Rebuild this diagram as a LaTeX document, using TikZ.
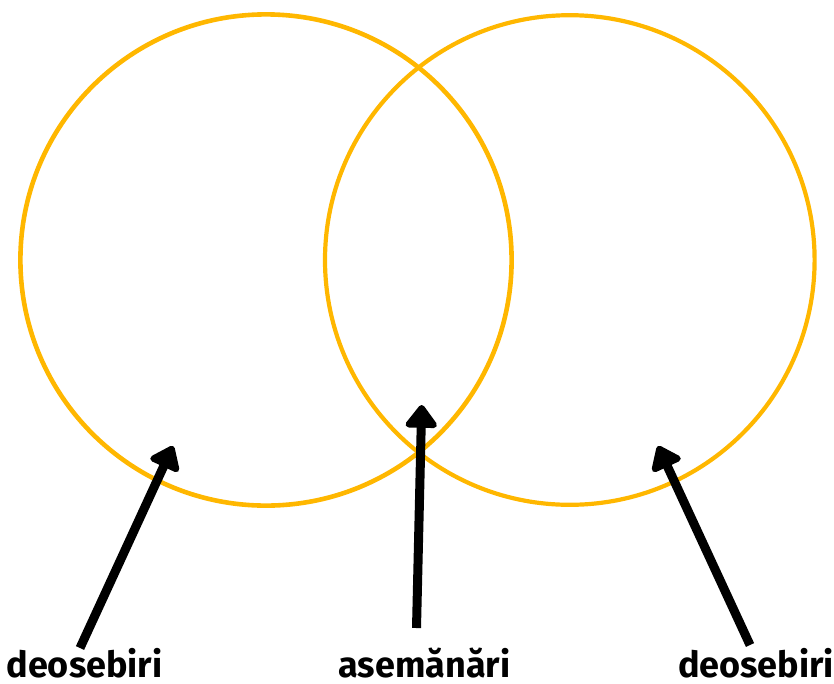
\documentclass[tikz,border=0pt]{standalone}
\usepackage{fontspec}
\setmainfont{Fira Sans}
\usepackage{xcolor}
\usepackage{tikz}
\usetikzlibrary{arrows.meta}

\definecolor{amber}{RGB}{255,183,0}

\tikzset{
    ring/.style = {draw = amber, line width = 4.6pt},
    pointer/.style = {draw = black, line width = 9pt,
        -{Triangle[length = 25pt, width = 36pt, round]}},
    caption/.style = {anchor = base, inner sep = 0pt,
        font = \bfseries\fontsize{36}{36}\selectfont}
}

\begin{document}
\begin{tikzpicture}[x = 1pt, y = -1pt]
        \useasboundingbox (0, 0) rectangle (834, 683);

        \draw[ring] (266, 260) circle(245.6);
        \draw[ring, line width = 4.2pt] (569.8, 260) circle(244.8);

        \node[caption] (left) at (84.5, 677) {deosebiri};
        \node[caption] (middle) at (424.5, 677) {asemănări};
        \node[caption] (right) at (756, 677) {deosebiri};

        \coordinate (leftfoot) at (80, 648);
        \coordinate (lefttip) at (173, 446);
        \coordinate (middlefoot) at (416.5, 628);
        \coordinate (middletip) at (421.7, 405);
        \coordinate (rightfoot) at (750, 645);
        \coordinate (righttip) at (658, 446);

        \draw[pointer] (leftfoot) -- (lefttip);
        \draw[pointer] (middlefoot) -- (middletip);
        \draw[pointer] (rightfoot) -- (righttip);
    \end{tikzpicture}
\end{document}
